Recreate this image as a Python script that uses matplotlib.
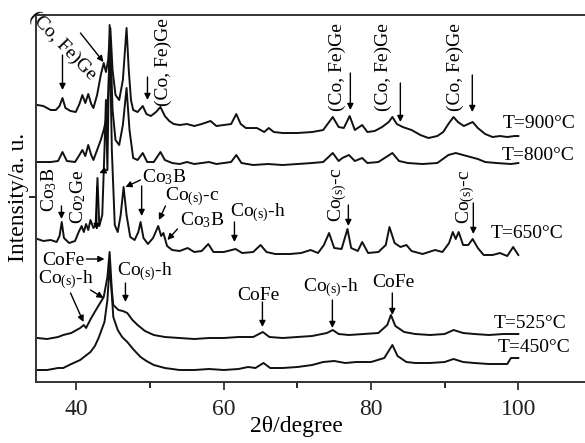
import matplotlib
matplotlib.use("Agg")
import matplotlib.pyplot as plt

plt.rcParams['font.family'] = ['Liberation Serif', 'DejaVu Serif']
plt.rcParams['mathtext.fontset'] = 'custom'
plt.rcParams['mathtext.rm'] = 'Liberation Serif'
plt.rcParams['mathtext.it'] = 'Liberation Serif:italic'

# ---------------- data (2theta, stacked intensity, arbitrary units) ----------------
tt_900 = [34.7, 35.5, 36.5, 37.2, 37.7, 38.1, 38.5, 39.2, 39.9, 40.4, 40.8, 41.2, 41.6, 42.0,
          42.3, 42.8, 43.3, 43.7, 44.0, 44.3, 44.6, 44.9, 45.3, 45.8, 46.3, 46.8, 47.1, 47.4,
          47.7, 48.3, 49.0, 49.5, 50.1, 50.8, 51.4, 52.0, 52.6, 53.2, 54.0, 55.0, 56.0, 57.0,
          58.2, 59.0, 60.0, 61.0, 61.7, 62.3, 63.0, 64.5, 65.5, 66.1, 66.8, 68.0, 70.0, 72.0,
          73.5, 74.8, 75.6, 76.3, 77.1, 77.8, 78.8, 79.5, 80.5, 81.5, 82.4, 82.9, 83.5, 84.3,
          85.5, 86.7, 87.8, 89.0, 89.8, 90.5, 91.2, 91.8, 92.6, 93.8, 94.5, 95.5, 96.5, 97.5,
          98.5, 99.5, 100.0]
i_900 = [277, 276, 272, 272, 276, 284, 274, 271, 270, 278, 287, 279, 288, 278,
         274, 287, 307, 319, 310, 322, 354, 312, 287, 282, 302, 354, 312, 282,
         272, 270, 276, 268, 266, 270, 275, 266, 261, 258, 257, 258, 256, 258,
         261, 256, 257, 258, 268, 258, 254, 254, 250, 254, 250, 249, 249, 250,
         252, 265, 255, 254, 266, 252, 257, 250, 251, 255, 260, 265, 258, 255,
         252, 247, 244, 246, 250, 258, 265, 260, 256, 260, 254, 248, 245, 246,
         245, 246, 246]

tt_800 = [34.7, 36.5, 37.5, 38.1, 38.7, 39.8, 40.4, 40.8, 41.2, 41.6, 42.0, 42.3, 42.8, 43.3,
          43.7, 44.0, 44.3, 44.6, 44.9, 45.3, 45.8, 46.3, 46.8, 47.2, 47.7, 48.3, 49.0, 49.6,
          50.5, 51.4, 52.0, 53.0, 54.0, 55.0, 56.0, 57.0, 58.0, 59.0, 60.0, 61.0, 61.7, 62.4,
          64.0, 66.0, 68.0, 70.0, 72.0, 73.5, 74.8, 75.6, 76.1, 77.0, 77.8, 78.8, 79.5, 81.0,
          82.9, 83.8, 85.0, 87.0, 89.0, 90.5, 91.5, 92.5, 93.5, 94.5, 95.5, 97.0, 99.0, 100.0]
i_800 = [220, 220, 221, 230, 221, 220, 227, 232, 226, 237, 227, 222, 232, 242,
         252, 262, 287, 342, 272, 242, 237, 257, 294, 252, 224, 222, 229, 220,
         220, 230, 222, 219, 218, 220, 218, 219, 220, 218, 219, 220, 227, 219,
         217, 218, 217, 218, 219, 220, 229, 221, 224, 227, 221, 224, 219, 220,
         229, 221, 219, 218, 219, 227, 229, 227, 225, 223, 220, 219, 218, 219]

tt_650 = [34.7, 35.5, 36.5, 37.3, 37.7, 38.0, 38.3, 39.0, 39.8, 40.3, 40.7, 41.0, 41.3, 41.6,
          41.9, 42.3, 42.6, 42.85, 43.1, 43.5, 43.8, 44.0, 44.2, 44.5, 44.8, 45.2, 45.6, 46.0,
          46.4, 46.8, 47.3, 47.9, 48.4, 48.7, 49.1, 49.7, 50.4, 51.1, 51.5, 51.8, 52.3, 53.0,
          54.0, 55.1, 56.0, 57.0, 57.9, 58.6, 60.0, 61.6, 62.5, 64.0, 65.0, 65.8, 67.0, 69.0,
          70.5, 71.8, 72.8, 73.6, 74.3, 75.0, 76.0, 76.8, 77.3, 78.2, 78.8, 79.6, 81.0, 82.0,
          82.5, 83.2, 84.0, 84.8, 85.5, 87.0, 88.7, 89.7, 90.6, 91.1, 91.5, 91.9, 92.5, 93.2,
          93.8, 94.5, 95.3, 96.5, 97.5, 98.5, 99.3, 100.0]
i_650 = [143, 141, 142, 140, 146, 160, 144, 139, 141, 150, 156, 150, 158, 152,
         162, 154, 157, 204, 156, 167, 232, 282, 212, 357, 232, 157, 150, 167,
         195, 167, 145, 142, 150, 160, 144, 138, 144, 156, 146, 149, 136, 132,
         131, 134, 130, 131, 138, 130, 130, 133, 129, 130, 137, 130, 128, 128,
         129, 132, 129, 137, 149, 134, 133, 153, 134, 131, 140, 129, 130, 137,
         155, 139, 135, 137, 131, 128, 132, 130, 139, 150, 143, 150, 137, 137,
         143, 134, 127, 127, 129, 126, 135, 127]

tt_525 = [34.7, 36.0, 37.5, 38.2, 39.3, 40.5, 41.0, 41.3, 42.0, 42.8, 43.7, 44.2, 44.5, 44.8,
          45.0, 45.7, 46.3, 46.9, 47.6, 48.3, 49.3, 50.5, 52.0, 54.0, 56.0, 58.0, 60.0, 62.0,
          64.0, 65.3, 66.2, 68.0, 70.0, 72.0, 74.0, 74.8, 75.6, 77.0, 79.0, 81.0, 82.2, 82.7,
          83.3, 84.5, 86.0, 88.0, 90.0, 91.2, 92.5, 94.0, 96.0, 98.0, 100.0]
i_525 = [44, 43, 45, 47, 49, 54, 57, 54, 64, 74, 85, 105, 130, 92,
         77, 72, 71, 69, 62, 57, 51, 47, 45, 44, 43, 44, 44, 45,
         45, 50, 45, 44, 45, 46, 49, 52, 48, 47, 48, 49, 57, 67,
         56, 50, 48, 47, 48, 52, 49, 48, 47, 48, 48]

tt_450 = [34.7, 36.0, 37.5, 38.2, 39.3, 40.5, 41.2, 41.9, 42.5, 43.0, 43.5, 43.8, 44.2, 44.5,
          44.8, 45.0, 45.6, 46.2, 46.9, 47.8, 48.7, 49.5, 50.5, 52.0, 54.0, 56.0, 58.0, 60.0,
          62.0, 63.3, 64.3, 65.4, 66.3, 68.0, 70.0, 72.0, 73.5, 75.0, 76.5, 78.0, 80.0, 81.8,
          82.9, 83.6, 84.8, 86.0, 88.0, 90.0, 91.2, 92.5, 94.0, 96.0, 98.5, 99.0, 100.0]
i_450 = [12, 12, 14, 14, 18, 22, 26, 30, 36, 44, 54, 60, 82, 117,
         87, 65, 52, 45, 40, 32, 25, 21, 17, 14, 12, 12, 13, 12,
         13, 15, 14, 19, 14, 14, 15, 17, 20, 21, 19, 20, 20, 24,
         37, 26, 20, 19, 19, 20, 23, 20, 19, 18, 18, 24, 24]

series = [("T=900°C", tt_900, i_900), ("T=800°C", tt_800, i_800),
          ("T=650°C", tt_650, i_650), ("T=525°C", tt_525, i_525),
          ("T=450°C", tt_450, i_450)]

x_major = [40, 60, 80, 100]
x_minor = [50, 70, 90]

# ---------------- figure ----------------
fig = plt.figure(figsize=(5.85, 4.43), dpi=100)
ax = fig.add_axes([0.0615, 0.1377, 0.9504, 0.8284])

for name, tt, ii in series:
    ax.plot(tt, ii, color='#111111', lw=1.4)

ax.set_xlim(34.5, 110)
ax.set_ylim(0, 367)

ax.set_xticks(x_major)
ax.set_xticks(x_minor, minor=True)
ax.set_yticks([185])
ax.set_yticklabels([])
ax.tick_params(axis='x', which='major', direction='out', length=6, width=1.2,
               labelsize=17, pad=6, colors='#222222')
ax.tick_params(axis='x', which='minor', direction='out', length=4, width=1.2)
ax.tick_params(axis='y', direction='out', length=5, width=1.2)
for s in ['top', 'left', 'bottom']:
    ax.spines[s].set_linewidth(1.4)
    ax.spines[s].set_color('#333333')
ax.spines['right'].set_visible(False)

ax.set_xlabel("2θ/degree", fontsize=17)
ax.xaxis.set_label_coords(0.468, -0.093)
ax.set_ylabel("Intensity/a. u.", fontsize=17)
ax.yaxis.set_label_coords(-0.013, 0.504)

fs = 14
arw = dict(arrowstyle='-|>', color='black', lw=1.0, mutation_scale=9, shrinkA=0, shrinkB=0)

def arrow(x0, y0, x1, y1):
    ax.annotate('', xy=(x1, y1), xytext=(x0, y0), arrowprops=arw, annotation_clip=False)

# sample labels
ax.text(97.83, 259, "T=900°C", fontsize=fs, va='center', ha='left')
ax.text(97.7, 227, "T=800°C", fontsize=fs, va='center', ha='left')
ax.text(96.2, 149, "T=650°C", fontsize=fs, va='center', ha='left')
ax.text(96.6, 59, "T=525°C", fontsize=fs, va='center', ha='left')
ax.text(97.15, 35, "T=450°C", fontsize=fs, va='center', ha='left')

# (Co, Fe)Ge labels for 900 °C
ax.text(38.1, 336, "(Co, Fe)Ge", fontsize=fs, rotation=-46, ha='center', va='center',
        rotation_mode='anchor')
arrow(38.1, 327, 38.1, 292)
arrow(40.54, 349, 43.67, 320)
ax.text(51.81, 320, "(Co, Fe)Ge", fontsize=fs, rotation=90, ha='center', va='center')
arrow(49.64, 305, 49.64, 282)
ax.text(75.43, 315, "(Co, Fe)Ge", fontsize=fs, rotation=90, ha='center', va='center')
arrow(77.19, 309, 77.19, 272)
ax.text(81.67, 315, "(Co, Fe)Ge", fontsize=fs, rotation=90, ha='center', va='center')
arrow(83.98, 299, 83.98, 260)
ax.text(91.45, 315, "(Co, Fe)Ge", fontsize=fs, rotation=90, ha='center', va='center')
arrow(93.75, 307, 93.75, 270)

# 650 °C labels
ax.text(36.33, 192, r"Co$_3$B", fontsize=fs, rotation=90, ha='center', va='center')
arrow(37.96, 176, 37.96, 163)
ax.text(40.27, 185, r"Co$_2$Ge", fontsize=fs, rotation=90, ha='center', va='center')
arrow(42.75, 195, 42.75, 152)
arrow(44.1, 212, 43.1, 209)
ax.text(48.96, 205, r"Co$_3$B", fontsize=fs, ha='left', va='center')
arrow(48.69, 202, 46.65, 195)
arrow(48.85, 196, 48.85, 166)
ax.text(52.08, 185, r"Co$_{\mathrm{(s)}}$-c", fontsize=fs, ha='left', va='center')
arrow(52.08, 176, 51.2, 162)
ax.text(54.12, 162, r"Co$_3$B", fontsize=fs, ha='left', va='center')
arrow(53.71, 153, 52.35, 142)
ax.text(60.9, 169, r"Co$_{\mathrm{(s)}}$-h", fontsize=fs, ha='left', va='center')
arrow(61.45, 160, 61.45, 140)
ax.text(75.43, 187, r"Co$_{\mathrm{(s)}}$-c", fontsize=fs, rotation=90, ha='center', va='center')
arrow(76.92, 177, 76.92, 156)
ax.text(92.8, 185, r"Co$_{\mathrm{(s)}}$-c", fontsize=fs, rotation=90, ha='center', va='center')
arrow(93.89, 179, 93.89, 148)

# 525 / 450 °C labels
ax.text(35.38, 122, "CoFe", fontsize=fs, ha='left', va='center')
arrow(41.36, 123, 43.8, 123)
ax.text(34.84, 102, r"Co$_{\mathrm{(s)}}$-h", fontsize=fs, ha='left', va='center')
arrow(39.19, 89, 40.95, 60)
arrow(41.9, 92, 43.67, 84)
ax.text(45.57, 110, r"Co$_{\mathrm{(s)}}$-h", fontsize=fs, ha='left', va='center')
arrow(46.65, 99, 46.65, 80)
ax.text(61.85, 87, "CoFe", fontsize=fs, ha='left', va='center')
arrow(65.25, 80, 65.25, 55)
ax.text(70.81, 94, r"Co$_{\mathrm{(s)}}$-h", fontsize=fs, ha='left', va='center')
arrow(74.75, 82, 74.75, 54)
ax.text(80.18, 100, "CoFe", fontsize=fs, ha='left', va='center')
arrow(82.89, 89, 82.89, 67)

fig.savefig("out.png", dpi=100)
